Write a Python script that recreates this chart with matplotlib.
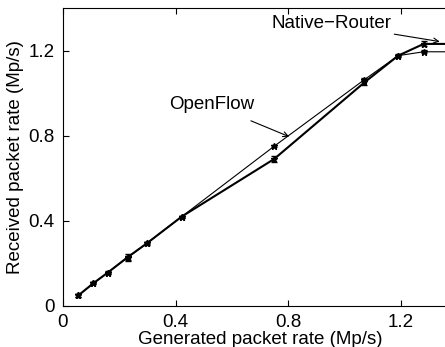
import matplotlib
matplotlib.use("Agg")
import matplotlib.pyplot as plt

plt.rcParams['font.family'] = ['Liberation Sans', 'DejaVu Sans']

# generated rate (Mp/s)
gen = [0.055, 0.108, 0.159, 0.23, 0.298, 0.422, 0.75, 1.07, 1.19, 1.28, 1.5]
native = [0.048, 0.105, 0.155, 0.228, 0.293, 0.419, 0.69, 1.05, 1.176, 1.231, 1.231]
native_err = [0.006, 0.005, 0.006, 0.016, 0.006, 0.005, 0.012, 0.01, 0.006, 0.012, 0.0]
openflow = [0.048, 0.105, 0.155, 0.226, 0.293, 0.419, 0.75, 1.063, 1.176, 1.194, 1.194]
openflow_err = [0.005, 0.005, 0.005, 0.01, 0.005, 0.005, 0.005, 0.008, 0.005, 0.008, 0.0]

xticks = [0, 0.4, 0.8, 1.2]
yticks = [0, 0.4, 0.8, 1.2]

fig = plt.figure(figsize=(4.45, 3.47), dpi=100)
ax = fig.add_axes([0.141, 0.119, 0.887, 0.858])

ax.errorbar(gen, native, yerr=native_err, color='black', lw=1.5, marker='*',
            ms=5, capsize=2.5, elinewidth=1.0)
ax.errorbar(gen, openflow, yerr=openflow_err, color='black', lw=0.8, marker='*',
            ms=4.5, capsize=2.5, elinewidth=0.8)

ax.set_xlim(0, 1.4)
ax.set_ylim(0, 1.4)
ax.set_xticks(xticks)
ax.set_yticks(yticks)
ax.set_xticklabels(['0', '0.4', '0.8', '1.2'])
ax.set_yticklabels(['0', '0.4', '0.8', '1.2'])
ax.tick_params(direction='in', length=4, labelsize=13.5, top=True, right=True,
               pad=6)

ax.set_xlabel('Generated packet rate (Mp/s)', fontsize=13.5, labelpad=0)
ax.set_ylabel('Received packet rate (Mp/s)', fontsize=13.5, labelpad=3)

ax.annotate('Native\u2212Router', xy=(1.337, 1.242), xytext=(1.166, 1.325),
            fontsize=13.5, ha='right', va='center',
            arrowprops=dict(arrowstyle='->', color='black', lw=0.8,
                            mutation_scale=9, shrinkA=0, shrinkB=0))
ax.annotate('OpenFlow', xy=(0.803, 0.795), xytext=(0.53, 0.945),
            fontsize=13.5, ha='center', va='center',
            arrowprops=dict(arrowstyle='->', color='black', lw=0.8,
                            mutation_scale=9, shrinkA=9, shrinkB=0))

fig.savefig('out.png', dpi=100)
